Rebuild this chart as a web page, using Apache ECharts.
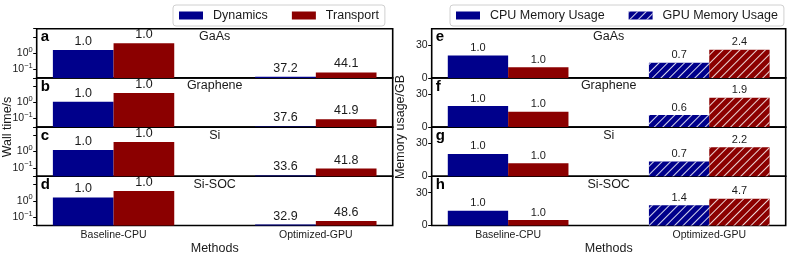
<!DOCTYPE html>
<html><head><meta charset="utf-8">
<script src="https://cdn.jsdelivr.net/npm/echarts@6/dist/echarts.min.js"></script>
<style>html,body{margin:0;padding:0;background:#fff}#c{width:793px;height:259px}</style>
</head><body><div id="c"></div><script>
// ---------- data ----------
const methods = ['Baseline-CPU', 'Optimized-GPU'];
const materials = ['GaAs', 'Graphene', 'Si', 'Si-SOC'];
const leftLetters = ['a', 'b', 'c', 'd'];
const rightLetters = ['e', 'f', 'g', 'h'];
// wall time (s), log scale
const dynTimeCPU = [1.55, 1.1, 1.25, 1.6];
const dynTimeGPU = [0.035, 0.033, 0.034, 0.034];
const transTimeCPU = [4.1, 3.7, 3.9, 4.0];
const transTimeGPU = [0.065, 0.09, 0.09, 0.056];
// speedup labels
const dynSpeedup = [37.2, 37.6, 33.6, 32.9];
const transSpeedup = [44.1, 41.9, 41.8, 48.6];
// memory usage (GB)
const dynMemCPU = [20.5, 19.2, 20.5, 13.5];
const dynMemGPU = [13.8, 11.0, 13.6, 18.5];
const transMemCPU = [9.8, 14.0, 12.0, 5.0];
const transMemGPU = [25.8, 26.9, 26.5, 24.5];
// memory ratio labels
const dynMemRatio = [0.7, 0.6, 0.7, 1.4];
const transMemRatio = [2.4, 1.9, 2.2, 4.7];

// ---------- style / layout ----------
const FONT = '"Liberation Sans", Arial, sans-serif';
const BLUE = '#00008b', RED = '#8b0000', TXT = '#1a1a1a';
const L0 = 36.7, LW = 356, R0 = 431.7, RW = 354, T0 = 28.7, PH = 49.2;
const HATCH = { symbol: 'rect', symbolSize: 1, dashArrayX: [1, 0], dashArrayY: [1, 4.2],
  rotation: -Math.PI / 4, color: 'rgba(255,255,255,0.85)' };

const grid = [], xAxis = [], yAxis = [], series = [], title = [];
const near = (a, b) => Math.abs(a - b) < 1e-6;

for (let side = 0; side < 2; side++) {
  for (let i = 0; i < 4; i++) {
    const g = side * 4 + i;
    const top = T0 + i * PH;
    const left = side === 0 ? L0 : R0;
    const width = side === 0 ? LW : RW;
    const bottom = i === 3;
    grid.push({ left, top, width, height: PH, show: true, borderColor: '#000', borderWidth: 1.6,
      backgroundColor: 'transparent' });
    xAxis.push({ type: 'value', gridIndex: g, min: -0.38, max: 1.38, interval: 0.02, position: 'bottom',
      axisLine: { show: false, onZero: false }, axisTick: { show: false }, splitLine: { show: false },
      axisLabel: { show: bottom, margin: 4, fontSize: 10.5, color: TXT, fontFamily: FONT,
        formatter: v => near(v, 0) ? methods[0] : (near(v, 1) ? methods[1] : '') },
      name: bottom ? 'Methods' : '', nameLocation: 'middle', nameGap: 17,
      nameTextStyle: { fontSize: 12.5, color: TXT, fontFamily: FONT } });
    if (side === 0) {
      yAxis.push({ type: 'log', logBase: 10, gridIndex: g, min: 0.03, max: 32, startValue: 0.03, position: 'left',
        axisLine: { show: false, onZero: false }, splitLine: { show: false },
        axisTick: { show: true, length: 3.5, lineStyle: { color: '#000', width: 1 } },
        axisLabel: { margin: 4, color: TXT, fontFamily: FONT,
          formatter: v => near(Math.log10(v), 0) ? '{b|10}{s|0}' : (near(Math.log10(v), -1) ? '{b|10}{s|\u22121}' : ''),
          rich: { b: { fontSize: 10.5, color: TXT, fontFamily: FONT },
                  s: { fontSize: 7.5, color: TXT, fontFamily: FONT, padding: [0, 0, 7, 0] } } } });
      series.push({ type: 'bar', name: 'Dynamics', xAxisIndex: g, yAxisIndex: g, barWidth: '30%', barGap: '0%',
        data: [[0, dynTimeCPU[i]], [1, dynTimeGPU[i]]], itemStyle: { color: BLUE },
        label: { show: true, position: 'top', distance: 2, fontSize: 12.5, color: TXT, fontFamily: FONT,
          formatter: p => p.dataIndex === 0 ? '1.0' : dynSpeedup[i].toFixed(1) } });
      series.push({ type: 'bar', name: 'Transport', xAxisIndex: g, yAxisIndex: g, barWidth: '30%', barGap: '0%',
        data: [[0, transTimeCPU[i]], [1, transTimeGPU[i]]], itemStyle: { color: RED },
        label: { show: true, position: 'top', distance: 2, fontSize: 12.5, color: TXT, fontFamily: FONT,
          formatter: p => p.dataIndex === 0 ? '1.0' : transSpeedup[i].toFixed(1) } });
    } else {
      yAxis.push({ type: 'value', gridIndex: g, min: 0, max: 45, interval: 30, position: 'left',
        axisLine: { show: false, onZero: false }, splitLine: { show: false },
        axisTick: { show: true, length: 3.5, lineStyle: { color: '#000', width: 1 } },
        axisLabel: { margin: 4, fontSize: 10.5, color: TXT, fontFamily: FONT, showMaxLabel: false,
          formatter: v => (near(v, 0) || near(v, 30)) ? String(Math.round(v)) : '' } });
      series.push({ type: 'bar', name: 'memDyn', xAxisIndex: g, yAxisIndex: g, barWidth: '30%', barGap: '0%',
        data: [{ value: [0, dynMemCPU[i]] }, { value: [1, dynMemGPU[i]], itemStyle: { decal: HATCH } }],
        itemStyle: { color: BLUE },
        label: { show: true, position: 'top', distance: 2, fontSize: 11, color: TXT, fontFamily: FONT,
          formatter: p => p.dataIndex === 0 ? '1.0' : dynMemRatio[i].toFixed(1) } });
      series.push({ type: 'bar', name: 'memTrans', xAxisIndex: g, yAxisIndex: g, barWidth: '30%', barGap: '0%',
        data: [{ value: [0, transMemCPU[i]] }, { value: [1, transMemGPU[i]], itemStyle: { decal: HATCH } }],
        itemStyle: { color: RED },
        label: { show: true, position: 'top', distance: 2, fontSize: 11, color: TXT, fontFamily: FONT,
          formatter: p => p.dataIndex === 0 ? '1.0' : transMemRatio[i].toFixed(1) } });
    }
    title.push({ text: (side === 0 ? leftLetters : rightLetters)[i], left: left + 4, top: top + 1,
      padding: 0, textStyle: { fontSize: 15, fontWeight: 'bold', color: '#000', fontFamily: FONT } });
    title.push({ text: materials[i], left: left + width / 2, top: top + 1.5, textAlign: 'center',
      padding: 0, textStyle: { fontSize: 12.5, fontWeight: 'normal', color: TXT, fontFamily: FONT } });
  }
}
// hidden grid for legend-only series
grid.push({ left: 0, top: 0, width: 1, height: 1, show: false });
xAxis.push({ type: 'category', gridIndex: 8, show: false, data: ['x'] });
yAxis.push({ type: 'value', gridIndex: 8, show: false });
series.push({ type: 'bar', name: 'CPU Memory Usage', xAxisIndex: 8, yAxisIndex: 8, data: [], itemStyle: { color: BLUE } });
series.push({ type: 'bar', name: 'GPU Memory Usage', xAxisIndex: 8, yAxisIndex: 8, data: [],
  itemStyle: { color: BLUE, decal: HATCH } });

const legendCommon = { top: 5, icon: 'rect', itemWidth: 24, itemHeight: 8, itemGap: 24,
  padding: [4, 6], borderColor: '#d0d0d0', borderWidth: 1, borderRadius: 3,
  textStyle: { fontSize: 12.5, color: TXT, fontFamily: FONT, padding: [0, 0, 0, 5] } };

const chart = echarts.init(document.getElementById('c'), null, { renderer: 'canvas' });
chart.setOption({
  animation: false,
  backgroundColor: '#fff',
  textStyle: { fontFamily: FONT },
  grid, xAxis, yAxis, series, title,
  legend: [
    Object.assign({}, legendCommon, { left: 173, data: ['Dynamics', 'Transport'] }),
    Object.assign({}, legendCommon, { left: 450, data: ['CPU Memory Usage', 'GPU Memory Usage'] })
  ],
  graphic: [
    { type: 'text', x: 8, y: 127, rotation: Math.PI / 2,
      style: { text: 'Wall time/s', font: '12.5px "Liberation Sans", Arial', fill: TXT,
        textAlign: 'center', textVerticalAlign: 'middle' } },
    { type: 'text', x: 401, y: 127, rotation: Math.PI / 2,
      style: { text: 'Memory usage/GB', font: '12.5px "Liberation Sans", Arial', fill: TXT,
        textAlign: 'center', textVerticalAlign: 'middle' } }
  ]
});
</script></body></html>
